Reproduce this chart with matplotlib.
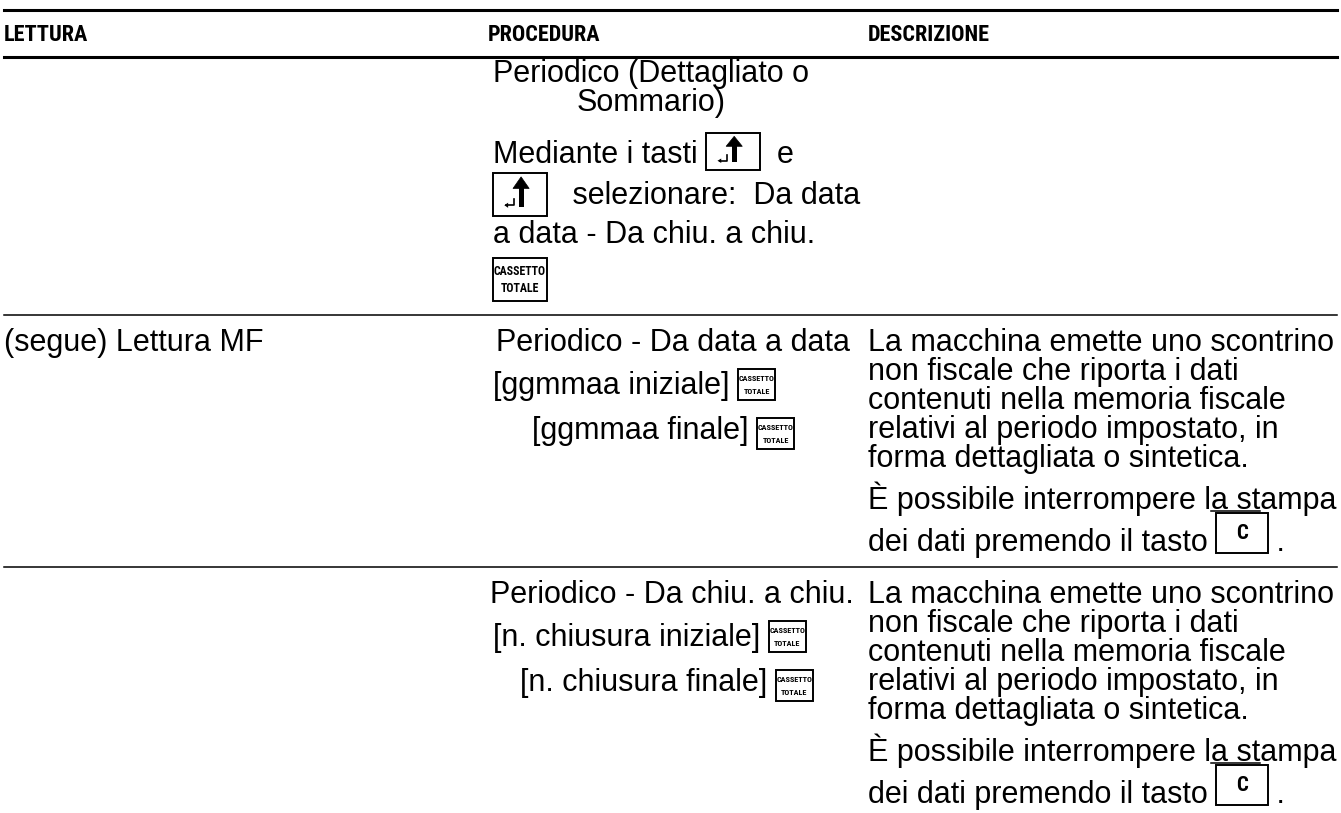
import matplotlib
matplotlib.use("Agg")
import matplotlib.pyplot as plt
from matplotlib import font_manager
from matplotlib.patches import Rectangle, Polygon
from matplotlib.lines import Line2D


def pick(fams):
    for f in fams:
        try:
            font_manager.findfont(font_manager.FontProperties(family=f),
                                  fallback_to_default=False)
            return f
        except Exception:
            pass
    return "DejaVu Sans"


BODY = pick(["Liberation Sans", "Arial", "DejaVu Sans"])
COND = pick(["Liberation Sans Narrow", "Roboto Condensed", "Liberation Sans"])

# ---------------- data (table content) ----------------
col_headers = ["LETTURA", "PROCEDURA", "DESCRIZIONE"]
row_labels = ["", "(segue) Lettura MF", ""]
row1_proc = [
    ["Periodico (Dettagliato o"],
    ["Sommario)"],
    ["Mediante i tasti ", "UP1", "  e"],
    ["UP", "   selezionare:  Da data"],
    ["a data - Da chiu. a chiu."],
    ["CT"],
]
row2_proc = [
    ["Periodico - Da data a data"],
    ["[ggmmaa iniziale] ", "ct"],
    ["[ggmmaa finale] ", "ct"],
]
row3_proc = [
    ["Periodico - Da chiu. a chiu."],
    ["[n. chiusura iniziale] ", "ct"],
    ["[n. chiusura finale] ", "ct"],
]
desc_lines = [
    "La macchina emette uno scontrino",
    "non fiscale che riporta i dati",
    "contenuti nella memoria fiscale",
    "relativi al periodo impostato, in",
    "forma dettagliata o sintetica.",
]
desc_stop_1 = "È possibile interrompere la stampa"
desc_stop_2 = ["dei dati premendo il tasto ", "C", " ."]

# ---------------- figure ----------------
W, H = 1341, 813
FS = 22
fig = plt.figure(figsize=(W / 100, H / 100), dpi=100)
ax = fig.add_axes([0, 0, 1, 1])
ax.set_xlim(0, W)
ax.set_ylim(H, 0)
ax.axis("off")
renderer = fig.canvas.get_renderer()

KEY_SIZE = {"UP": (54, 43), "UP1": (54, 37), "CT": (54, 43), "ct": (37, 31), "C": (52, 40)}


def measure(s, **kw):
    t = ax.text(0, 0, s, fontsize=FS, family=BODY, **kw)
    w = t.get_window_extent(renderer).width
    t.remove()
    return w


def draw_key(kind, x, bottom):
    w, h = KEY_SIZE[kind]
    top = bottom - h
    ax.add_patch(Rectangle((x, top), w, h, fill=False, ec="black", lw=1.4))
    if kind in ("UP", "UP1"):
        cx = x + 0.52 * w
        ax.add_patch(Polygon([(cx - 0.15 * w, top + 0.36 * h),
                              (cx + 0.15 * w, top + 0.36 * h),
                              (cx, top + 0.09 * h)], closed=True,
                             fc="black", ec="black", lw=0.5))
        ax.add_patch(Rectangle((cx - 0.045 * w, top + 0.32 * h), 0.09 * w, 0.46 * h,
                               fc="black", ec="none"))
        sx = x + 0.38 * w
        ax.add_line(Line2D([sx, sx, x + 0.25 * w],
                           [top + 0.6 * h, top + 0.75 * h, top + 0.75 * h],
                           color="black", lw=1.2))
        ax.add_patch(Polygon([(x + 0.21 * w, top + 0.75 * h),
                              (x + 0.28 * w, top + 0.69 * h),
                              (x + 0.28 * w, top + 0.81 * h)], closed=True,
                             fc="black", ec="none"))
    elif kind in ("CT", "ct"):
        fs = 8.6 if kind == "CT" else 5.9
        ax.text(x + w / 2, top + h * 0.31, "CASSETTO", ha="center", va="center",
                fontsize=fs, family=COND, weight="bold")
        ax.text(x + w / 2, top + h * 0.71, "TOTALE", ha="center", va="center",
                fontsize=fs, family=COND, weight="bold")
    elif kind == "C":
        ax.text(x + w / 2, top + h * 0.5, "C", ha="center", va="center",
                fontsize=15, family=COND, weight="bold")
    return w


def draw_line(segs, x, base, key_dy=5, center=None):
    if center is not None:
        tot = sum(KEY_SIZE[s][0] if s in KEY_SIZE else measure(s) for s in segs)
        x = center - tot / 2
    for s in segs:
        if s in KEY_SIZE:
            x += draw_key(s, x, base + key_dy)
        else:
            ax.text(x, base, s, fontsize=FS, family=BODY, va="baseline", ha="left")
            x += measure(s)
    return x


# ---------------- rules ----------------
X0, X1 = 4, 1337
ax.add_line(Line2D([X0, X1], [10, 10], color="black", lw=2.2))
ax.add_line(Line2D([X0, X1], [57, 57], color="black", lw=2.2))
for yy in (315, 567):
    ax.add_line(Line2D([X0, X1], [yy, yy], color="black", lw=1.1))

# ---------------- headers ----------------
for txt, hx in zip(col_headers, [4, 488, 868]):
    ax.text(hx, 41, txt, fontsize=16, family=COND, weight="bold", va="baseline")

# ---------------- row 1 ----------------
w_first = measure(row1_proc[0][0])
cx1 = 493 + w_first / 2
draw_line(row1_proc[0], 0, 82, center=cx1)
draw_line(row1_proc[1], 0, 111, center=cx1)
draw_line(row1_proc[2], 493, 163, key_dy=7)
draw_line(row1_proc[3], 493, 204, key_dy=12)
draw_line(row1_proc[4], 493, 243)
draw_line(row1_proc[5], 493, 290, key_dy=11)

# ---------------- rows 2 and 3 ----------------
DX = 868
for r, (proc, px, y0) in enumerate([(row2_proc, (496, 493, 532), 0),
                                     (row3_proc, (490, 493, 520), 252)]):
    lab = row_labels[r + 1]
    if lab:
        ax.text(4, 351 + y0, lab, fontsize=FS, family=BODY, va="baseline")
    draw_line(proc[0], px[0], 351 + y0)
    draw_line(proc[1], px[1], 394 + y0, key_dy=6)
    draw_line(proc[2], px[2], 439 + y0, key_dy=10)
    for i, line in enumerate(desc_lines):
        ax.text(DX, 351 + y0 + 29 * i, line, fontsize=FS, family=BODY, va="baseline")
    b = 509 + y0
    ax.text(DX, b, desc_stop_1, fontsize=FS, family=BODY, va="baseline")
    xa = DX + measure("È possibile interrompere l")
    xb = DX + measure("È possibile interrompere la st")
    ax.add_line(Line2D([xa, xb], [b + 2, b + 2], color="black", lw=1.1))
    draw_line(desc_stop_2, DX, 551 + y0, key_dy=2)

fig.savefig("out.png", dpi=100)
